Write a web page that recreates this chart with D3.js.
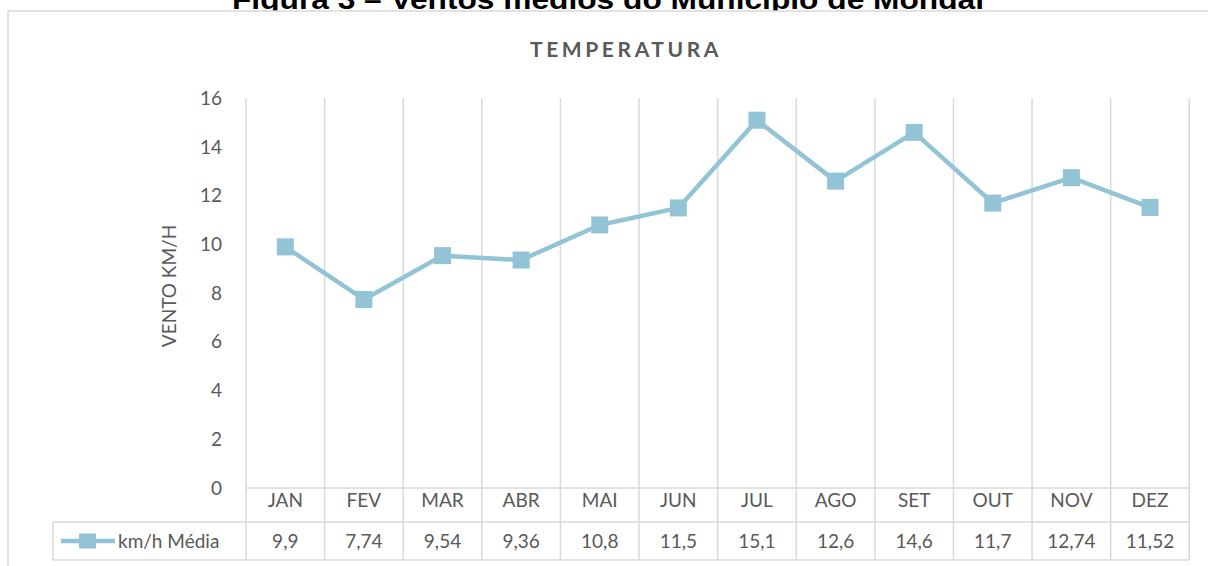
<!DOCTYPE html>
<html>
<head>
<meta charset="utf-8">
<script src="https://cdn.jsdelivr.net/npm/d3@7"></script>
<style>
  html, body { margin: 0; padding: 0; background: #fff; }
  svg text { font-family: Lato, "Open Sans", sans-serif; fill: #595959; }
</style>
</head>
<body>
<svg id="chart" width="1208" height="566"></svg>
<script>
// data
var months = ["JAN", "FEV", "MAR", "ABR", "MAI", "JUN", "JUL", "AGO", "SET", "OUT", "NOV", "DEZ"];
var windAvg = [9.9, 7.74, 9.54, 9.36, 10.8, 11.5, 15.1, 12.6, 14.6, 11.7, 12.74, 11.52];
var yTicks = [0, 2, 4, 6, 8, 10, 12, 14, 16];
var seriesName = "km/h Média";
var chartTitle = "TEMPERATURA";
var axisTitle = "VENTO KM/H";
var caption = "Figura 3 – Ventos médios do Município de Mondaí";

(function(){
    var svg = d3.select("#chart");
    var gridColor = "#d9d9d9";
    var lineColor = "#93c4d5";

    svg.append("rect").attr("width", 1208).attr("height", 566).attr("fill", "#fff");

    // plot area and table rows
    var plotLeft = 246, plotRight = 1189.3, plotTop = 98.3, plotBottom = 488;
    var rowMid = 522, tableBottom = 560, legendLeft = 53;

    var x = d3.scaleBand().domain(months).range([plotLeft, plotRight]).padding(0);
    var y = d3.scaleLinear().domain([0, 16]).range([plotBottom, plotTop]);

    // caption above the chart (cut by the top edge)
    svg.append("text")
        .attr("x", 608)
        .attr("y", 9)
        .attr("text-anchor", "middle")
        .attr("textLength", 752)
        .attr("lengthAdjust", "spacingAndGlyphs")
        .style("font-family", "'Liberation Sans', Arial, sans-serif")
        .style("font-weight", "bold")
        .style("font-size", "27px")
        .style("fill", "#000")
        .text(caption);

    // chart frame
    svg.append("rect")
        .attr("x", 8).attr("y", 11)
        .attr("width", 1230).attr("height", 600)
        .attr("fill", "#fff")
        .attr("stroke", gridColor)
        .attr("stroke-width", 1.5);

    // chart title
    svg.append("text")
        .attr("x", 626)
        .attr("y", 57)
        .attr("text-anchor", "middle")
        .style("font-weight", "bold")
        .style("font-size", "21px")
        .style("letter-spacing", "3.6px")
        .text(chartTitle);

    // vertical grid lines at the category edges, running through the table
    var edges = months.map(function(m){ return x(m); })
        .concat([x(months[months.length - 1]) + x.bandwidth()]);
    svg.append("g").selectAll("line")
        .data(edges)
        .enter().append("line")
        .attr("x1", function(d){ return d; })
        .attr("x2", function(d){ return d; })
        .attr("y1", y(16))
        .attr("y2", tableBottom)
        .attr("stroke", gridColor)
        .attr("stroke-width", 1.5);

    // table horizontal lines
    var hLines = [
        {y: plotBottom, x1: plotLeft},
        {y: rowMid, x1: legendLeft},
        {y: tableBottom, x1: legendLeft}
    ];
    svg.append("g").selectAll("line")
        .data(hLines)
        .enter().append("line")
        .attr("x1", function(d){ return d.x1; })
        .attr("x2", plotRight)
        .attr("y1", function(d){ return d.y; })
        .attr("y2", function(d){ return d.y; })
        .attr("stroke", gridColor)
        .attr("stroke-width", 1.5);

    svg.append("line")
        .attr("x1", legendLeft).attr("x2", legendLeft)
        .attr("y1", rowMid).attr("y2", tableBottom)
        .attr("stroke", gridColor)
        .attr("stroke-width", 1.5);

    // y axis tick labels
    var yAxis = d3.axisLeft(y).tickValues(yTicks).tickSize(0).tickPadding(0);
    var yg = svg.append("g")
        .attr("transform", "translate(222,0)")
        .call(yAxis);
    yg.select(".domain").remove();
    yg.selectAll("text")
        .style("font-family", "Lato, sans-serif")
        .style("font-size", "19px")
        .attr("fill", "#595959");

    // y axis title
    svg.append("text")
        .attr("transform", "translate(176,286) rotate(-90)")
        .attr("text-anchor", "middle")
        .style("font-size", "19px")
        .text(axisTitle);

    // category labels (first table row)
    var xAxis = d3.axisBottom(x).tickSize(0).tickPadding(0);
    var xg = svg.append("g")
        .attr("transform", "translate(0," + (plotBottom + 5) + ")")
        .call(xAxis);
    xg.select(".domain").remove();
    xg.selectAll("text")
        .style("font-family", "Lato, sans-serif")
        .style("font-size", "19px")
        .attr("fill", "#595959");

    // value row
    svg.append("g").selectAll("text")
        .data(windAvg)
        .enter().append("text")
        .attr("x", function(d, i){ return x(months[i]) + x.bandwidth() / 2; })
        .attr("y", (rowMid + tableBottom) / 2)
        .attr("dy", "0.35em")
        .attr("text-anchor", "middle")
        .style("font-size", "19px")
        .text(function(d){ return String(d).replace(".", ","); });

    // legend key in the table
    var legY = (rowMid + tableBottom) / 2;
    svg.append("line")
        .attr("x1", 61).attr("x2", 115)
        .attr("y1", legY).attr("y2", legY)
        .attr("stroke", lineColor)
        .attr("stroke-width", 4.5);
    svg.append("rect")
        .attr("x", 79).attr("y", legY - 7.5)
        .attr("width", 17).attr("height", 15)
        .attr("fill", lineColor);
    svg.append("text")
        .attr("x", 118)
        .attr("y", legY)
        .attr("dy", "0.35em")
        .style("font-size", "19px")
        .text(seriesName);

    // series line
    var line = d3.line()
        .x(function(d, i){ return x(months[i]) + x.bandwidth() / 2; })
        .y(function(d){ return y(d); });

    svg.append("path")
        .attr("d", line(windAvg))
        .attr("fill", "none")
        .attr("stroke", lineColor)
        .attr("stroke-width", 4.5)
        .attr("stroke-linejoin", "round")
        .attr("stroke-linecap", "round");

    var msize = 17;
    svg.append("g").selectAll("rect")
        .data(windAvg)
        .enter().append("rect")
        .attr("x", function(d, i){ return x(months[i]) + x.bandwidth() / 2 - msize / 2; })
        .attr("y", function(d){ return y(d) - msize / 2; })
        .attr("width", msize)
        .attr("height", msize)
        .attr("fill", lineColor);
})();
</script>
</body>
</html>
